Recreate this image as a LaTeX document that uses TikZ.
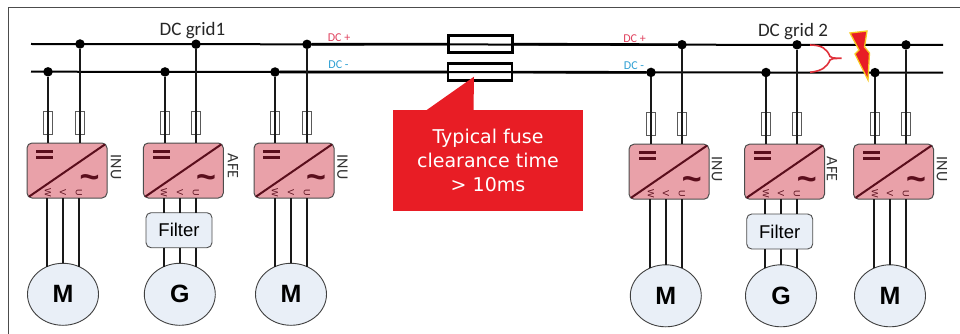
\documentclass[tikz,border=0pt]{standalone}
\usepackage{fontspec}
\setmainfont{Liberation Sans}
\newfontfamily\calfont{Carlito}
\newfontfamily\dejafont{DejaVu Sans}
\usepackage{tikz}
\usetikzlibrary{shapes.geometric}
\definecolor{convpink}{HTML}{E9A1A9}
\definecolor{convdark}{HTML}{5A0E1C}
\definecolor{paleblue}{HTML}{E9EFF7}
\definecolor{calloutred}{HTML}{E81D25}
\definecolor{dcred}{HTML}{E0435F}
\definecolor{dcblue}{HTML}{2E9FD3}
\definecolor{faultred}{HTML}{E0303A}
\definecolor{boltyellow}{HTML}{F8C820}
\tikzstyle{busline} = [line width=2pt,black]
\tikzstyle{thickbus} = [line width=2.6pt,black]
\tikzstyle{wire} = [line width=2pt,black!90]
\tikzstyle{dot} = [circle,fill=black,minimum size=9.5pt,inner sep=0pt,outer sep=0pt]
\tikzstyle{smallfuse} = [draw=black!65,line width=0.9pt,minimum width=9.5pt,minimum height=23pt,inner sep=0pt,outer sep=0pt]
\tikzstyle{mainfuse} = [draw=black,line width=2.2pt,minimum width=64pt,minimum height=17pt,inner sep=0pt,outer sep=0pt]
\tikzstyle{conv} = [draw=black!70,line width=1pt,fill=convpink,rounded corners=5pt,minimum width=80pt,minimum height=55pt,inner sep=0pt,outer sep=0pt]
\tikzstyle{diag} = [draw=convdark,line width=2pt,shorten <=2.5pt,shorten >=2.5pt]
\tikzstyle{dcbar} = [draw=convdark,line width=3pt]
\tikzstyle{tilde} = [text=convdark,font=\fontsize{34}{34}\selectfont\bfseries,inner sep=0pt]
\tikzstyle{phase} = [text=convdark,font=\fontsize{9}{9}\selectfont,rotate=-90,inner sep=0pt]
\tikzstyle{drvname} = [text=black!80,font=\calfont\fontsize{16}{16}\selectfont,rotate=-90,inner sep=0pt]
\tikzstyle{filterbox} = [draw=black!70,line width=0.9pt,fill=paleblue,rounded corners=5pt,minimum width=66pt,minimum height=35pt,inner sep=0pt,outer sep=0pt,font=\fontsize{18.5}{18.5}\selectfont]
\tikzstyle{motor} = [ellipse,draw=black!75,line width=0.9pt,fill=paleblue,minimum width=71pt,minimum height=62pt,inner sep=0pt,outer sep=0pt,font=\fontsize{25}{25}\selectfont\bfseries]
\tikzstyle{gridname} = [text=black!85,font=\calfont\fontsize{19}{19}\selectfont,inner sep=0pt]
\tikzstyle{polarity} = [font=\calfont\fontsize{12}{12}\selectfont,inner sep=0pt]

\begin{document}
\begin{tikzpicture}[yscale=-1]
	\useasboundingbox (0pt,0pt) rectangle (960pt,334pt);
	\draw[black!70,line width=1pt] (8pt,334pt) -- (8pt,7.5pt) -- (960pt,7.5pt);
	% buses
	\coordinate (plusL) at (31pt,44pt);
	\coordinate (plusR) at (943pt,45pt);
	\coordinate (minusL) at (31pt,71.7pt);
	\coordinate (minusR) at (943pt,72.7pt);
	\node[mainfuse] (fusePlus) at (480.5pt,44pt){};
	\node[mainfuse] (fuseMinus) at (480pt,72pt){};
	\node[dot] (jnA) at (48pt,71.8pt){};
	\node[dot] (jpA) at (80pt,44pt){};
	\node[dot] (jnB) at (165pt,71.9pt){};
	\node[dot] (jpB) at (196pt,44.2pt){};
	\node[dot] (jnC) at (275pt,72pt){};
	\node[dot] (jpC) at (307pt,44.3pt){};
	\node[dot] (jnD) at (651pt,72.4pt){};
	\node[dot] (jpD) at (682pt,44.7pt){};
	\node[dot] (jnE) at (766pt,72.5pt){};
	\node[dot] (jpE) at (797pt,44.8pt){};
	\node[dot] (jnF) at (875pt,72.6pt){};
	\node[dot] (jpF) at (906pt,44.9pt){};
	\draw[busline] (plusL) -- (plusR);
	\draw[busline] (minusL) -- (minusR);
	\draw[thickbus] (jpC) -- (fusePlus) -- (jpD);
	\draw[thickbus] (jnC) -- (fuseMinus) -- (jnD);
	\node[gridname] (gridOne) at (192.5pt,30.5pt){DC grid1};
	\node[gridname] (gridTwo) at (793pt,31.5pt){DC grid 2};
	\node[polarity,text=dcred] (plusOne) at (339pt,37.5pt){DC +};
	\node[polarity,text=dcblue] (minusOne) at (338.5pt,65pt){DC -};
	\node[polarity,text=dcred] (plusTwo) at (634.5pt,38.5pt){DC +};
	\node[polarity,text=dcblue] (minusTwo) at (634pt,66pt){DC -};
	% drive A
	\node[conv] (cA) at (67pt,170.5pt){};
	\node[smallfuse] (fnA) at (48pt,123pt){};
	\node[smallfuse] (fpA) at (80pt,123pt){};
	\draw[wire] (jnA) -- (fnA.center) -- (fnA.center |- cA.north);
	\draw[wire] (jpA) -- (fpA.center) -- (fpA.center |- cA.north);
	\draw[diag] (cA.south west) -- (cA.north east);
	\draw[dcbar] (36pt,151pt) -- (53pt,151pt) (36pt,157pt) -- (53pt,157pt);
	\node[tilde] (tA) at (89.5pt,182pt){\char`~};
	\node[phase] (wA) at (48pt,192.3pt){W};
	\node[phase] (vA) at (63pt,192.3pt){V};
	\node[phase] (uA) at (79pt,192.3pt){U};
	\node[drvname] (nA) at (116pt,167pt){INU};
	\node[motor] (mA) at (63pt,294.3pt){M};
	\draw[wire] (mA.120 |- cA.south) -- (mA.120);
	\draw[wire] (mA.north |- cA.south) -- (mA.north);
	\draw[wire] (mA.60 |- cA.south) -- (mA.60);
	% drive B
	\node[conv] (cB) at (183.3pt,170.5pt){};
	\node[smallfuse] (fnB) at (165pt,123pt){};
	\node[smallfuse] (fpB) at (196pt,123pt){};
	\draw[wire] (jnB) -- (fnB.center) -- (fnB.center |- cB.north);
	\draw[wire] (jpB) -- (fpB.center) -- (fpB.center |- cB.north);
	\draw[diag] (cB.south west) -- (cB.north east);
	\draw[dcbar] (153pt,151pt) -- (170pt,151pt) (153pt,157pt) -- (170pt,157pt);
	\node[tilde] (tB) at (206pt,182pt){\char`~};
	\node[phase] (wB) at (164pt,192.3pt){W};
	\node[phase] (vB) at (180pt,192.3pt){V};
	\node[phase] (uB) at (196pt,192.3pt){U};
	\node[drvname] (nB) at (233pt,166pt){AFE};
	\node[filterbox] (flB) at (179pt,230.2pt){Filter};
	\node[motor] (mB) at (179.8pt,294.3pt){G};
	\draw[wire] (mB.120 |- cB.south) -- (mB.120 |- flB.north);
	\draw[wire] (mB.north |- cB.south) -- (mB.north |- flB.north);
	\draw[wire] (mB.60 |- cB.south) -- (mB.60 |- flB.north);
	\draw[wire] (mB.120 |- flB.south) -- (mB.120);
	\draw[wire] (mB.north |- flB.south) -- (mB.north);
	\draw[wire] (mB.60 |- flB.south) -- (mB.60);
	% drive C
	\node[conv] (cC) at (294pt,170.5pt){};
	\node[smallfuse] (fnC) at (275pt,123pt){};
	\node[smallfuse] (fpC) at (307pt,123pt){};
	\draw[wire] (jnC) -- (fnC.center) -- (fnC.center |- cC.north);
	\draw[wire] (jpC) -- (fpC.center) -- (fpC.center |- cC.north);
	\draw[diag] (cC.south west) -- (cC.north east);
	\draw[dcbar] (263pt,151pt) -- (280pt,151pt) (263pt,157pt) -- (280pt,157pt);
	\node[tilde] (tC) at (316pt,182pt){\char`~};
	\node[phase] (wC) at (275pt,192.3pt){W};
	\node[phase] (vC) at (291pt,192.3pt){V};
	\node[phase] (uC) at (307pt,192.3pt){U};
	\node[drvname] (nC) at (342.5pt,167pt){INU};
	\node[motor] (mC) at (291pt,294.3pt){M};
	\draw[wire] (mC.120 |- cC.south) -- (mC.120);
	\draw[wire] (mC.north |- cC.south) -- (mC.north);
	\draw[wire] (mC.60 |- cC.south) -- (mC.60);
	% drive D
	\node[conv] (cD) at (669pt,171.7pt){};
	\node[smallfuse] (fnD) at (651pt,124pt){};
	\node[smallfuse] (fpD) at (682pt,124pt){};
	\draw[wire] (jnD) -- (fnD.center) -- (fnD.center |- cD.north);
	\draw[wire] (jpD) -- (fpD.center) -- (fpD.center |- cD.north);
	\draw[diag] (cD.south west) -- (cD.north east);
	\draw[dcbar] (639pt,152pt) -- (656pt,152pt) (639pt,158pt) -- (656pt,158pt);
	\node[tilde] (tD) at (691.7pt,184pt){\char`~};
	\node[phase] (wD) at (651pt,193.7pt){W};
	\node[phase] (vD) at (666pt,193.7pt){V};
	\node[phase] (uD) at (682pt,193.7pt){U};
	\node[drvname] (nD) at (717pt,169pt){INU};
	\node[motor] (mD) at (665.8pt,295.8pt){M};
	\draw[wire] (mD.120 |- cD.south) -- (mD.120);
	\draw[wire] (mD.north |- cD.south) -- (mD.north);
	\draw[wire] (mD.60 |- cD.south) -- (mD.60);
	% drive E
	\node[conv] (cE) at (784.5pt,171.7pt){};
	\node[smallfuse] (fnE) at (766pt,124pt){};
	\node[smallfuse] (fpE) at (797pt,124pt){};
	\draw[wire] (jnE) -- (fnE.center) -- (fnE.center |- cE.north);
	\draw[wire] (jpE) -- (fpE.center) -- (fpE.center |- cE.north);
	\draw[diag] (cE.south west) -- (cE.north east);
	\draw[dcbar] (754pt,152pt) -- (771pt,152pt) (754pt,158pt) -- (771pt,158pt);
	\node[tilde] (tE) at (806.7pt,184pt){\char`~};
	\node[phase] (wE) at (766pt,193.7pt){W};
	\node[phase] (vE) at (781pt,193.7pt){V};
	\node[phase] (uE) at (797pt,193.7pt){U};
	\node[drvname] (nE) at (832pt,169pt){AFE};
	\node[filterbox] (flE) at (779.7pt,231.5pt){Filter};
	\node[motor] (mE) at (781pt,295.8pt){G};
	\draw[wire] (mE.120 |- cE.south) -- (mE.120 |- flE.north);
	\draw[wire] (mE.north |- cE.south) -- (mE.north |- flE.north);
	\draw[wire] (mE.60 |- cE.south) -- (mE.60 |- flE.north);
	\draw[wire] (mE.120 |- flE.south) -- (mE.120);
	\draw[wire] (mE.north |- flE.south) -- (mE.north);
	\draw[wire] (mE.60 |- flE.south) -- (mE.60);
	% drive F
	\node[conv] (cF) at (893.5pt,171.7pt){};
	\node[smallfuse] (fnF) at (875pt,124pt){};
	\node[smallfuse] (fpF) at (906pt,124pt){};
	\draw[wire] (jnF) -- (fnF.center) -- (fnF.center |- cF.north);
	\draw[wire] (jpF) -- (fpF.center) -- (fpF.center |- cF.north);
	\draw[diag] (cF.south west) -- (cF.north east);
	\draw[dcbar] (863pt,152pt) -- (880pt,152pt) (863pt,158pt) -- (880pt,158pt);
	\node[tilde] (tF) at (916pt,184pt){\char`~};
	\node[phase] (wF) at (875pt,193.7pt){W};
	\node[phase] (vF) at (890pt,193.7pt){V};
	\node[phase] (uF) at (906pt,193.7pt){U};
	\node[drvname] (nF) at (942pt,169pt){INU};
	\node[motor] (mF) at (890pt,295.8pt){M};
	\draw[wire] (mF.120 |- cF.south) -- (mF.120);
	\draw[wire] (mF.north |- cF.south) -- (mF.north);
	\draw[wire] (mF.60 |- cF.south) -- (mF.60);
	% callout
	\node[fill=calloutred,text=white,minimum width=190.5pt,minimum height=100.5pt,inner sep=0pt,align=center,font=\dejafont\fontsize{19}{23.7}\selectfont] (callout) at (488pt,160.4pt){Typical fuse\\clearance time\\> 10ms};
	\coordinate (calloutTip) at (474pt,76.7pt);
	\fill[calloutred] (calloutTip) -- (426pt,110.5pt) -- (473.5pt,110.5pt) -- cycle;
	% fault
	\draw[faultred,line width=1.6pt] (810pt,45pt) .. controls (822pt,45pt) and (827pt,49pt) .. (830pt,56.5pt) .. controls (832pt,58pt) .. (841.7pt,58.3pt) .. controls (832pt,58.6pt) .. (830pt,60pt) .. controls (827pt,67pt) and (822pt,71pt) .. (810pt,72.3pt);
	\draw[draw=boltyellow,fill=calloutred,line width=1.3pt,line join=miter] (850pt,33pt) -- (867pt,31pt) -- (864.5pt,47pt) -- (869.5pt,53pt) -- (868pt,80pt) -- (855pt,54pt) -- (859pt,50pt) -- cycle;
\end{tikzpicture}
\end{document}
